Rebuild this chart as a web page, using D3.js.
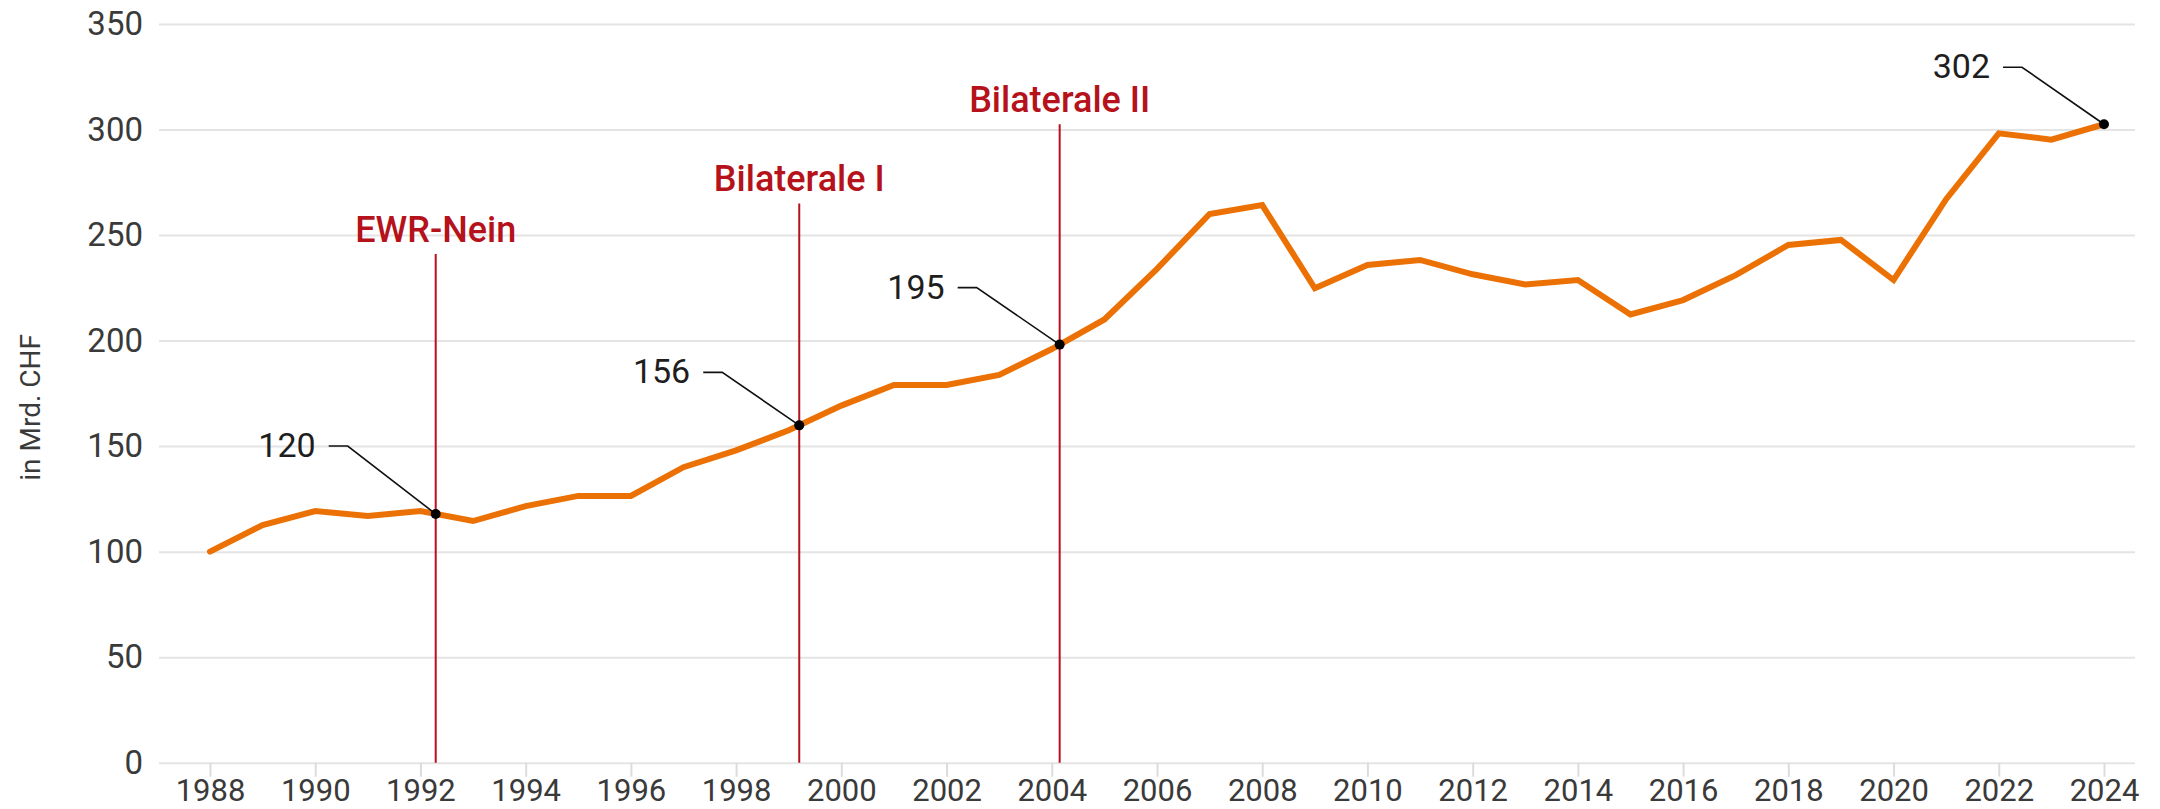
<!DOCTYPE html>
<html>
<head>
<meta charset="utf-8">
<script src="https://cdn.jsdelivr.net/npm/d3@7"></script>
<style>
  html, body { margin: 0; padding: 0; background: #fff; }
  svg { display: block; }
  text { font-family: Roboto, "Noto Sans", sans-serif; }
</style>
</head>
<body>
<svg id="chart" width="2160" height="809"></svg>
<script>
// ---- data ----
const years = [1988,1989,1990,1991,1992,1993,1994,1995,1996,1997,1998,1999,2000,2001,2002,2003,2004,2005,2006,2007,2008,2009,2010,2011,2012,2013,2014,2015,2016,2017,2018,2019,2020,2021,2022,2023,2024];
const values = [100,112.6,119.2,116.9,119.2,114.5,121.6,126.4,126.4,140,148,157.5,169.2,179,179,183.7,196,210,234,260,264.2,224.8,235.8,238.2,231.4,226.6,228.7,212.4,219.2,231,245.3,247.7,228.7,267,298.2,295.2,302.5];
const yTicks = [0,50,100,150,200,250,300,350];
const xTicks = [1988,1990,1992,1994,1996,1998,2000,2002,2004,2006,2008,2010,2012,2014,2016,2018,2020,2022,2024];
const eventNames = ["EWR-Nein","Bilaterale I","Bilaterale II"];
const eventYears = [1992.29,1999.2,2004.15];
const eventTops = [241,265,302.5];
const annoLabels = ["120","156","195","302"];
const annoYears = [1992.29,1999.2,2004.15,2024];
const yTitle = "in Mrd. CHF";

// ---- layout ----
const W = 2160, H = 809;
const plotLeft = 159, plotRight = 2135;
const x = d3.scaleLinear().domain([1988, 2024]).range([210, 2104]);
const y = d3.scaleLinear().domain([0, 350]).range([762.7, 24]);
const annoOffsets = [[-107,-68],[-96,-53],[-102,-57],[-101,-57]];

const svg = d3.select("#chart");

// y grid + labels
const yAxis = d3.axisLeft(y).tickValues(yTicks).tickSize(-(plotRight - plotLeft)).tickPadding(16).tickFormat(d3.format("d"));
const gy = svg.append("g").attr("transform", `translate(${plotLeft},0)`).call(yAxis);
gy.select(".domain").remove();
gy.selectAll(".tick line").attr("stroke", "#e4e4e4").attr("stroke-width", 2);
gy.selectAll(".tick text").attr("font-size", 33).attr("fill", "#3a3a3a").attr("font-family", "Roboto").attr("font-weight", 400);

// x axis
const xAxis = d3.axisBottom(x).tickValues(xTicks).tickSize(14).tickFormat(d3.format("d"));
const gx = svg.append("g").attr("transform", `translate(0,${y(0)})`).call(xAxis);
gx.select(".domain").remove();
gx.selectAll(".tick line").attr("stroke", "#dcdcdc").attr("stroke-width", 2);
gx.selectAll(".tick text").attr("y", 38).attr("dy", null)
  .attr("font-size", 31).attr("fill", "#3a3a3a").attr("font-family", "Roboto").attr("font-weight", 400);

// y title
svg.append("text")
  .attr("transform", `translate(40,${(y(0)+y(350))/2 + 14}) rotate(-90)`)
  .attr("text-anchor", "middle")
  .attr("font-size", 28).attr("fill", "#3a3a3a")
  .text(yTitle);

// value at fractional year
function valueAt(yr) {
  const i = Math.max(0, Math.min(years.length - 2, Math.floor(yr - years[0])));
  const t = (yr - years[i]) / (years[i+1] - years[i]);
  return values[i] + (values[i+1] - values[i]) * t;
}

// event lines and labels
eventNames.forEach((name, i) => {
  const ex = x(eventYears[i]);
  svg.append("line")
    .attr("x1", ex).attr("x2", ex)
    .attr("y1", y(eventTops[i])).attr("y2", y(0))
    .attr("stroke", "#b5121b").attr("stroke-width", 2);
  svg.append("text")
    .attr("x", ex).attr("y", y(eventTops[i]) - 12)
    .attr("text-anchor", "middle")
    .attr("font-size", 36).attr("font-weight", 500).attr("fill", "#b5121b")
    .text(name);
});

// main line
const line = d3.line().x((d, i) => x(years[i])).y(d => y(d));
svg.append("path")
  .datum(values)
  .attr("d", line)
  .attr("fill", "none")
  .attr("stroke", "#ec7104")
  .attr("stroke-width", 6)
  .attr("stroke-linejoin", "miter")
  .attr("stroke-linecap", "round");

// annotations
annoLabels.forEach((lab, i) => {
  const dx = x(annoYears[i]), dy = y(valueAt(annoYears[i]));
  const sx = dx + annoOffsets[i][0], sy = dy + annoOffsets[i][1];
  svg.append("path")
    .attr("d", `M${sx},${sy}H${sx + 19}L${dx},${dy}`)
    .attr("fill", "none").attr("stroke", "#111").attr("stroke-width", 1.6);
  svg.append("circle").attr("cx", dx).attr("cy", dy).attr("r", 5).attr("fill", "#000");
  svg.append("text")
    .attr("x", sx - 13).attr("y", sy + 11)
    .attr("text-anchor", "end")
    .attr("font-size", 34).attr("font-weight", 400).attr("fill", "#1e1e1e")
    .text(lab);
});
</script>
</body>
</html>
